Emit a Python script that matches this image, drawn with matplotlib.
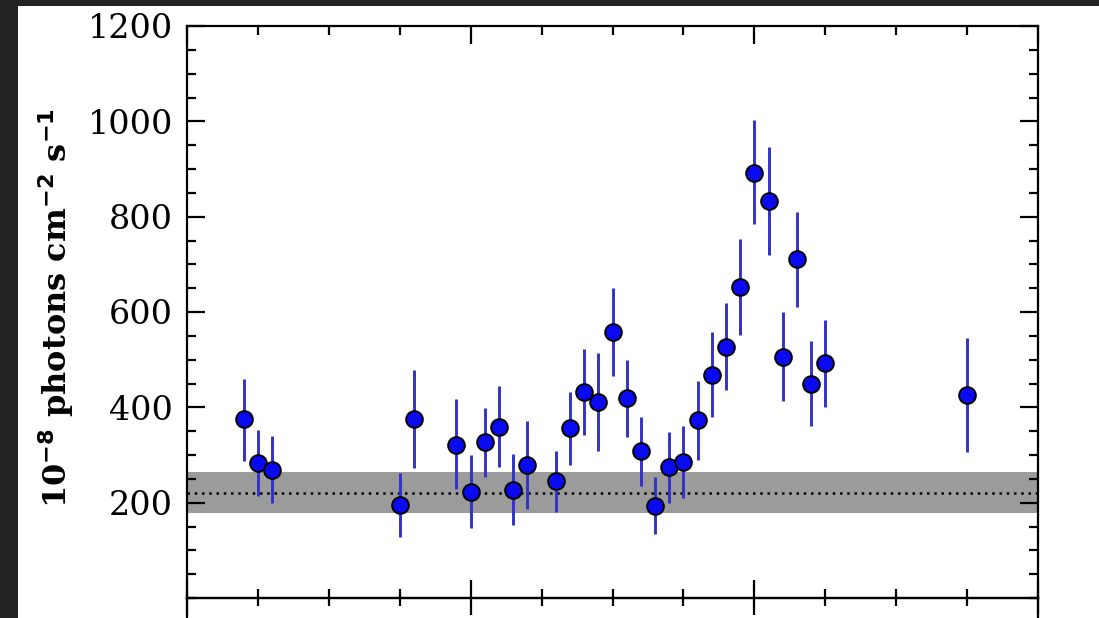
import matplotlib
matplotlib.use("Agg")
import matplotlib.pyplot as plt
from matplotlib.patches import Rectangle
from matplotlib.ticker import MultipleLocator, NullFormatter

# ---- data (days, flux in 1e-8 ph cm^-2 s^-1) ----
time_days = [40, 50, 60, 150, 160, 190, 200, 210, 220, 230, 240, 260, 270, 280,
             290, 300, 310, 320, 330, 340, 350, 360, 370, 380, 390, 400, 410,
             420, 430, 440, 450, 550]
flux = [375, 284, 269, 195, 376, 322, 222, 327, 359, 227, 279, 246, 356, 433,
        412, 559, 420, 309, 194, 274, 286, 373, 468, 527, 652, 892, 833,
        506, 711, 450, 492, 426]
err_up = [459, 352, 340, 263, 478, 417, 299, 399, 445, 302, 372, 308, 432, 522,
          513, 651, 499, 380, 253, 348, 361, 456, 557, 618, 753, 1003, 946,
          599, 810, 540, 583, 545]
err_lo = [287, 214, 199, 129, 273, 229, 146, 253, 275, 153, 186, 181, 279, 342,
          308, 466, 338, 236, 134, 200, 209, 290, 380, 436, 552, 785, 720,
          414, 611, 361, 400, 307]
band_low = 178
band_high = 265
band_mean = 221
ylabel_text = r"10$^{\mathbf{-8}}$ photons cm$^{\mathbf{-2}}$ s$^{\mathbf{-1}}$"

W, H = 1099, 618
fig = plt.figure(figsize=(W / 100, H / 100), dpi=100, facecolor="#222222")
fig.patches.append(Rectangle((18 / W, 0), 1 - 18 / W, (H - 6) / H,
                             transform=fig.transFigure, facecolor="white",
                             edgecolor="none", zorder=-10))

left, right, top, bottom = 187, 1038, 26, 598
ax = fig.add_axes([left / W, (H - bottom) / H, (right - left) / W, (bottom - top) / H])
ax2 = fig.add_axes([left / W, (H - bottom) / H - 0.4, (right - left) / W, 0.4])

for a in (ax, ax2):
    a.set_facecolor("none")
    for s in a.spines.values():
        s.set_linewidth(1.6)
    a.set_xlim(0, 600)
    a.xaxis.set_major_locator(MultipleLocator(200))
    a.xaxis.set_minor_locator(MultipleLocator(50))
    a.xaxis.set_major_formatter(NullFormatter())

ax.set_ylim(0, 1200)
ax.yaxis.set_major_locator(MultipleLocator(200))
ax.yaxis.set_minor_locator(MultipleLocator(50))
ax.tick_params(which="both", direction="in", top=True, right=True, bottom=True,
               left=True, width=1.6, labelbottom=False)
ax.tick_params(which="major", length=13, pad=10)
ax.tick_params(which="minor", length=6.5)
ax.set_yticks([200, 400, 600, 800, 1000, 1200])
for lab in ax.get_yticklabels():
    lab.set_fontfamily("DejaVu Serif")
    lab.set_fontsize(24)

ax2.set_ylim(0, 1)
ax2.set_yticks([])
ax2.tick_params(which="both", direction="in", top=True, bottom=False,
                left=False, right=False, width=1.6, labelbottom=False)
ax2.tick_params(which="major", length=12)
ax2.tick_params(which="minor", length=6)

ax.axhspan(band_low, band_high, color="#9b9b9b", zorder=1, lw=0)
ax.axhline(band_mean, color="black", lw=1.8, linestyle=(0, (1, 1.9)), zorder=2)

yerr = [[f - l for f, l in zip(flux, err_lo)], [u - f for f, u in zip(flux, err_up)]]
ax.errorbar(time_days, flux, yerr=yerr, fmt="none", ecolor="#3232c8",
            elinewidth=2.1, capsize=0, zorder=3)
ax.plot(time_days, flux, "o", ms=12, mfc="#0a0af0", mec="black", mew=1.4,
        zorder=4, linestyle="none")

fig.text(56 / W, 1 - 308 / H, ylabel_text, rotation=90, ha="center", va="center",
         fontsize=23, fontweight="bold", fontfamily="DejaVu Serif")

fig.savefig("out.png", dpi=100, facecolor=fig.get_facecolor())
